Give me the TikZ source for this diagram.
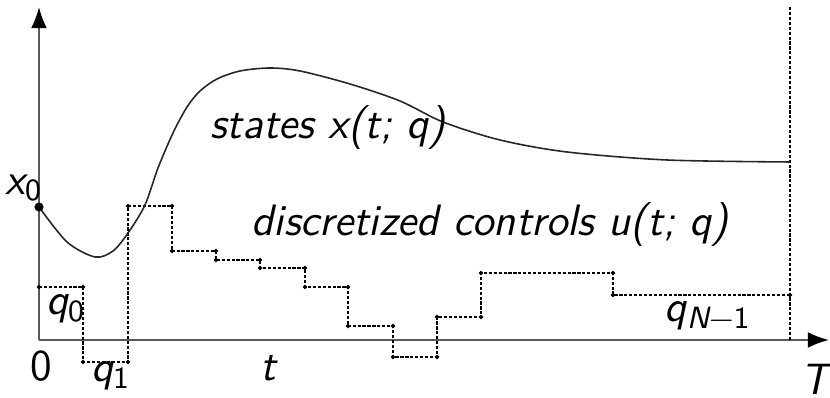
\documentclass[tikz,border=0pt]{standalone}
\usetikzlibrary{arrows.meta}
\begin{document}
\begin{tikzpicture}[x=0.01cm,y=-0.01cm,
  axis/.style={line width=0.6pt,draw=black!65,-{Latex[length=6pt,width=4.5pt,black]}},
  statecurve/.style={line width=0.45pt,draw=black!85},
  ctrl/.style={line width=0.45pt,dash pattern=on 0.9pt off 0.5pt},
  lbl/.style={font=\fontsize{12.5}{14}\sffamily\itshape,inner sep=0pt}]
  \useasboundingbox (0,0) rectangle (830,398);

  % axes
  \coordinate (o) at (39,340);
  \coordinate (ytop) at (39,7);
  \coordinate (xend) at (829,340);
  \draw[axis] (o) -- (ytop);
  \draw[axis] (o) -- (xend);

  % horizon line at t = T
  \coordinate (Ttop) at (790,7);
  \coordinate (Tbot) at (790,340);
  \draw[ctrl] (Tbot) -- (Ttop);

  % piecewise constant controls
  \draw[ctrl] plot[mark=*,mark size=0.35pt,mark options={solid}] coordinates {
    (39,287) (83,287) (83,362) (128,362) (128,206) (172,206) (172,251)
    (216,251) (216,260) (260,260) (260,268) (305,268) (305,287) (348,287)
    (348,326) (393,326) (393,357) (437,357) (437,317) (481,317) (481,273)
    (613,273) (613,295) (790,295)};

  % state trajectory
  \draw[statecurve] plot[smooth,tension=0.5] coordinates {
    (39,207) (67,242) (95,257) (113,251) (128,233) (145,205) (158,168)
    (173,133) (187,107) (200,91) (217,79) (240,71) (270,68) (300,71)
    (350,84) (400,101) (443,122) (500,140) (567,152) (667,160) (790,162)};
  \fill (39,207) circle[radius=1.3pt];

  % labels
  \node[lbl] (x0) at (24,188) {x\textsubscript{\upshape 0}};
  \node[lbl] (states) at (328,128) {states x(t; q)};
  \node[lbl] (controls) at (490,225) {discretized controls u(t; q)};
  \node[lbl] (q0) at (66,309) {q\textsubscript{\upshape 0}};
  \node[lbl] (q1) at (111,376) {q\textsubscript{\upshape 1}};
  \node[lbl] (qN) at (708,316) {q\textsubscript{N{\upshape \char"2212 1}}};
  \node[lbl,font=\fontsize{12.5}{14}\sffamily] (zero) at (41,366) {0};
  \node[lbl] (t) at (268,368) {t};
  \node[lbl] (T) at (815,379) {T};
\end{tikzpicture}
\end{document}
